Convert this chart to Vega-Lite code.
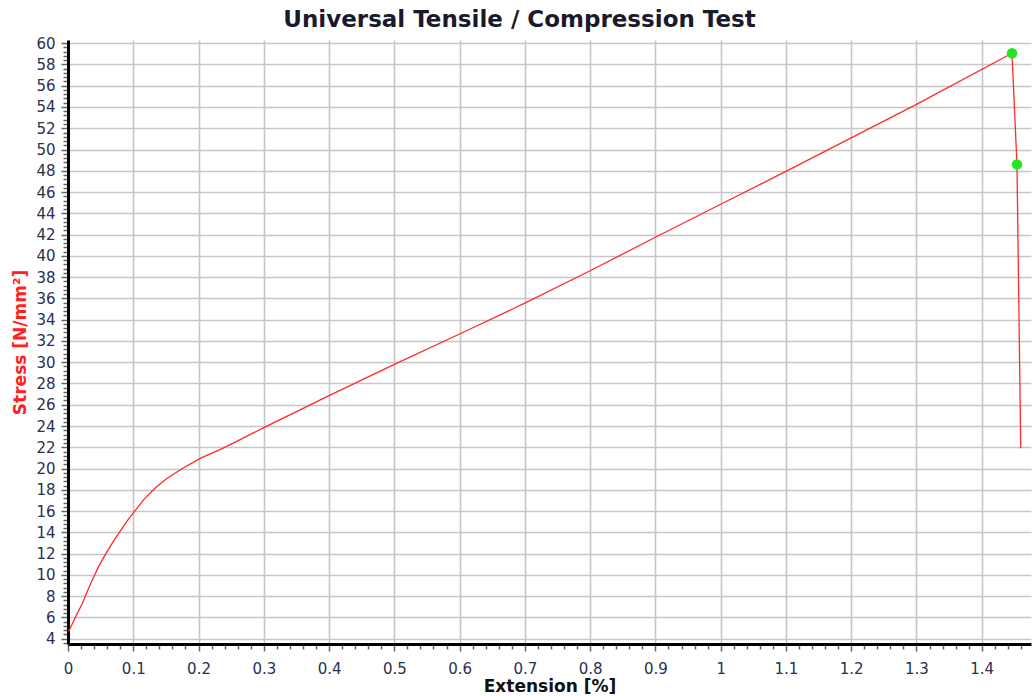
{
  "$schema": "https://vega.github.io/schema/vega-lite/v6.json",
  "autosize": {"type": "none"},
  "padding": {"left": 68, "top": 40, "right": 1, "bottom": 52},
  "width": 963,
  "height": 604,
  "background": "white",
  "title": {
    "text": "Universal Tensile / Compression Test",
    "font": "DejaVu Sans",
    "fontSize": 23,
    "fontWeight": "bold",
    "color": "#1a1a2a",
    "anchor": "middle",
    "frame": "group",
    "baseline": "alphabetic",
    "offset": -14,
    "dx": -30
  },
  "config": {
    "view": {"stroke": null},
    "axis": {
      "labelFont": "DejaVu Sans",
      "titleFont": "DejaVu Sans",
      "labelFontSize": 15,
      "labelColor": "#2a3050",
      "titleFontSize": 17,
      "titleFontWeight": "bold",
      "domainColor": "#000000",
      "domainWidth": 3,
      "tickColor": "#666666",
      "tickWidth": 1.5,
      "tickCount": 500,
      "gridColor": "#c6c6c6",
      "gridWidth": 1.6,
      "labelOverlap": false,
      "labelBound": false,
      "labelFlush": false
    }
  },
  "data": {
    "values": [
      {"x": 0.0, "y": 4.7, "pt": 0},
      {"x": 0.002, "y": 4.8, "pt": 0},
      {"x": 0.012, "y": 6.1, "pt": 0},
      {"x": 0.022, "y": 7.3, "pt": 0},
      {"x": 0.030, "y": 8.5, "pt": 0},
      {"x": 0.037, "y": 9.5, "pt": 0},
      {"x": 0.047, "y": 10.8, "pt": 0},
      {"x": 0.058, "y": 12.0, "pt": 0},
      {"x": 0.070, "y": 13.2, "pt": 0},
      {"x": 0.081, "y": 14.2, "pt": 0},
      {"x": 0.091, "y": 15.1, "pt": 0},
      {"x": 0.101, "y": 15.9, "pt": 0},
      {"x": 0.117, "y": 17.15, "pt": 0},
      {"x": 0.134, "y": 18.2, "pt": 0},
      {"x": 0.150, "y": 19.0, "pt": 0},
      {"x": 0.175, "y": 20.0, "pt": 0},
      {"x": 0.204, "y": 21.0, "pt": 0},
      {"x": 0.232, "y": 21.75, "pt": 0},
      {"x": 0.257, "y": 22.5, "pt": 0},
      {"x": 0.3, "y": 23.85, "pt": 0},
      {"x": 0.4, "y": 26.85, "pt": 0},
      {"x": 0.5, "y": 29.8, "pt": 0},
      {"x": 0.6, "y": 32.65, "pt": 0},
      {"x": 0.7, "y": 35.55, "pt": 0},
      {"x": 0.8, "y": 38.6, "pt": 0},
      {"x": 0.9, "y": 41.75, "pt": 0},
      {"x": 1.0, "y": 44.85, "pt": 0},
      {"x": 1.1, "y": 47.95, "pt": 0},
      {"x": 1.2, "y": 51.1, "pt": 0},
      {"x": 1.3, "y": 54.25, "pt": 0},
      {"x": 1.4464, "y": 59.05, "pt": 1},
      {"x": 1.454, "y": 48.6, "pt": 1},
      {"x": 1.4598, "y": 21.9, "pt": 0}
    ]
  },
  "layer": [
    {
      "mark": {"type": "line", "color": "#ff2a2a", "strokeWidth": 1.3, "clip": true},
      "encoding": {
        "x": {
          "field": "x",
          "type": "quantitative",
          "scale": {"domain": [0, 1.4755], "nice": false, "zero": false},
          "axis": {
            "title": "Extension [%]",
            "titleColor": "#111111",
            "titlePadding": 2,
            "tickCount": 500,
            "values": [0, 0.02, 0.04, 0.06, 0.08, 0.1, 0.12, 0.14, 0.16, 0.18, 0.2, 0.22, 0.24, 0.26, 0.28, 0.3, 0.32, 0.34, 0.36, 0.38, 0.4, 0.42, 0.44, 0.46, 0.48, 0.5, 0.52, 0.54, 0.56, 0.58, 0.6, 0.62, 0.64, 0.66, 0.68, 0.7, 0.72, 0.74, 0.76, 0.78, 0.8, 0.82, 0.84, 0.86, 0.88, 0.9, 0.92, 0.94, 0.96, 0.98, 1.0, 1.02, 1.04, 1.06, 1.08, 1.1, 1.12, 1.14, 1.16, 1.18, 1.2, 1.22, 1.24, 1.26, 1.28, 1.3, 1.32, 1.34, 1.36, 1.38, 1.4, 1.42, 1.44, 1.46],
            "labelExpr": "abs(datum.value*10 - round(datum.value*10)) < 0.001 ? format(datum.value, '.1~f') : ''",
            "tickSize": {"condition": {"test": "abs(datum.value*10 - round(datum.value*10)) < 0.001", "value": 7}, "value": 5},
            "gridOpacity": {"condition": {"test": "abs(datum.value*10 - round(datum.value*10)) < 0.001", "value": 1}, "value": 0},
            "labelPadding": 10
          }
        },
        "y": {
          "field": "y",
          "type": "quantitative",
          "scale": {"domain": [3.5, 60.3], "nice": false, "zero": false},
          "axis": {
            "title": "Stress [N/mm²]",
            "titleColor": "#ff2020",
            "titlePadding": 6,
            "tickCount": 500,
            "values": [3.6, 4, 4.4, 4.8, 5.2, 5.6, 6, 6.4, 6.8, 7.2, 7.6, 8, 8.4, 8.8, 9.2, 9.6, 10, 10.4, 10.8, 11.2, 11.6, 12, 12.4, 12.8, 13.2, 13.6, 14, 14.4, 14.8, 15.2, 15.6, 16, 16.4, 16.8, 17.2, 17.6, 18, 18.4, 18.8, 19.2, 19.6, 20, 20.4, 20.8, 21.2, 21.6, 22, 22.4, 22.8, 23.2, 23.6, 24, 24.4, 24.8, 25.2, 25.6, 26, 26.4, 26.8, 27.2, 27.6, 28, 28.4, 28.8, 29.2, 29.6, 30, 30.4, 30.8, 31.2, 31.6, 32, 32.4, 32.8, 33.2, 33.6, 34, 34.4, 34.8, 35.2, 35.6, 36, 36.4, 36.8, 37.2, 37.6, 38, 38.4, 38.8, 39.2, 39.6, 40, 40.4, 40.8, 41.2, 41.6, 42, 42.4, 42.8, 43.2, 43.6, 44, 44.4, 44.8, 45.2, 45.6, 46, 46.4, 46.8, 47.2, 47.6, 48, 48.4, 48.8, 49.2, 49.6, 50, 50.4, 50.8, 51.2, 51.6, 52, 52.4, 52.8, 53.2, 53.6, 54, 54.4, 54.8, 55.2, 55.6, 56, 56.4, 56.8, 57.2, 57.6, 58, 58.4, 58.8, 59.2, 59.6, 60],
            "labelExpr": "abs(datum.value/2 - round(datum.value/2)) < 0.001 ? format(datum.value, 'd') : ''",
            "tickSize": {"condition": {"test": "abs(datum.value/2 - round(datum.value/2)) < 0.001", "value": 7}, "value": 5},
            "gridOpacity": {"condition": {"test": "abs(datum.value/2 - round(datum.value/2)) < 0.001", "value": 1}, "value": 0},
            "labelPadding": 6
          }
        }
      }
    },
    {
      "transform": [{"filter": "datum.pt == 1"}],
      "mark": {"type": "circle", "color": "#22e622", "opacity": 1, "size": 110},
      "encoding": {
        "x": {"field": "x", "type": "quantitative"},
        "y": {"field": "y", "type": "quantitative"}
      }
    }
  ]
}
